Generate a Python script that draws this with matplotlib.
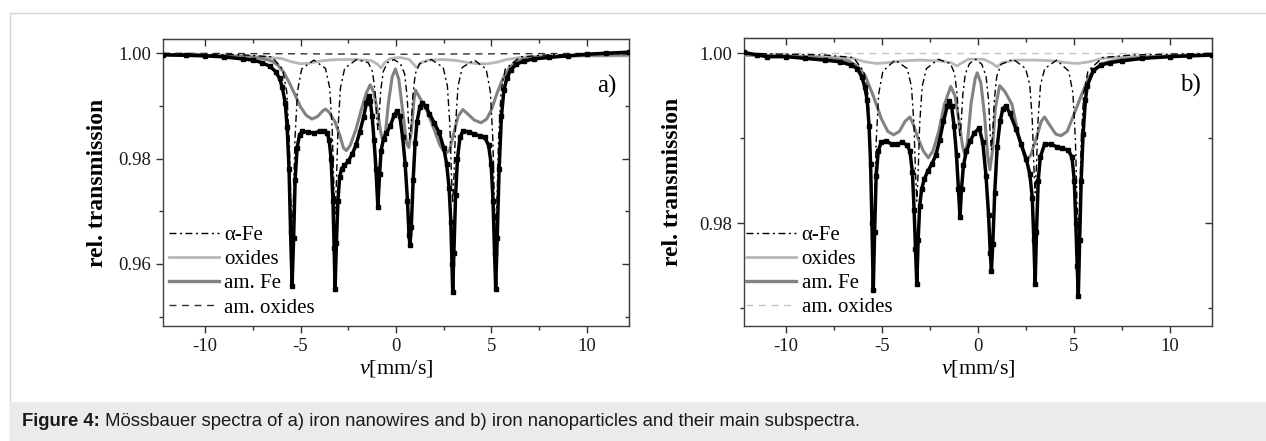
# Mossbauer spectra, two panels, subspectra
import numpy as np
import matplotlib
matplotlib.use('Agg')
from matplotlib import pyplot as plt
from matplotlib import ticker
import matplotlib.lines as mlines
import matplotlib.patches as mpatches

from matplotlib import rcParams
rcParams['font.family'] = 'Liberation Serif'
rcParams['mathtext.fontset'] = 'custom'
rcParams['mathtext.rm'] = 'Liberation Serif'
rcParams['mathtext.it'] = 'Liberation Serif:italic'
rcParams['axes.unicode_minus'] = False

# ---------------- panel a) iron nanowires ----------------
a_data_v = [-12.2, -11, -10, -9, -8, -7.5, -7, -6.6, -6.3, -6.1, -5.95, -5.8, -5.7, -5.6, -5.52,
            -5.44, -5.36, -5.28, -5.18, -5.05, -4.9, -4.6, -4.3, -4.0, -3.75, -3.6, -3.5, -3.4,
            -3.3, -3.24, -3.19, -3.12, -3.04, -2.95, -2.85, -2.7, -2.5, -2.3, -2.1, -1.9, -1.7,
            -1.55, -1.43, -1.35, -1.25, -1.15, -1.05, -0.95, -0.86, -0.78, -0.65, -0.5, -0.3,
            -0.1, 0.06, 0.2, 0.35, 0.48, 0.6, 0.68, 0.73, 0.8, 0.9, 1.0, 1.1, 1.25, 1.37, 1.55,
            1.75, 2.0, 2.25, 2.5, 2.65, 2.78, 2.87, 2.93, 2.97, 3.03, 3.12, 3.22, 3.35, 3.5, 3.8,
            4.1, 4.4, 4.65, 4.85, 4.98, 5.08, 5.16, 5.22, 5.3, 5.4, 5.52, 5.65, 5.8, 6.0, 6.3,
            6.7, 7.2, 8, 9, 10, 11, 12.2]
a_data_t = [0.9997, 0.9996, 0.9995, 0.9993, 0.9989, 0.9987, 0.9982, 0.9975, 0.9965, 0.9952,
            0.9935, 0.9905, 0.9860, 0.9780, 0.9660, 0.9558, 0.9650, 0.9760, 0.9820, 0.9845,
            0.9852, 0.9850, 0.9848, 0.9852, 0.9853, 0.9848, 0.9835, 0.9800, 0.9720, 0.9630,
            0.9553, 0.9640, 0.9720, 0.9765, 0.9780, 0.9787, 0.9795, 0.9808, 0.9825, 0.9850,
            0.9878, 0.9905, 0.9918, 0.9910, 0.9880, 0.9835, 0.9780, 0.9708, 0.9770, 0.9815,
            0.9838, 0.9848, 0.9862, 0.9882, 0.9891, 0.9880, 0.9840, 0.9790, 0.9720, 0.9655,
            0.9636, 0.9670, 0.9760, 0.9830, 0.9870, 0.9898, 0.9906, 0.9900, 0.9885, 0.9868,
            0.9850, 0.9820, 0.9790, 0.9745, 0.9680, 0.9600, 0.9547, 0.9620, 0.9730, 0.9800,
            0.9840, 0.9852, 0.9851, 0.9846, 0.9843, 0.9840, 0.9825, 0.9790, 0.9720, 0.9620,
            0.9553, 0.9650, 0.9780, 0.9880, 0.9930, 0.9952, 0.9968, 0.9979, 0.9985, 0.9989,
            0.9992, 0.9995, 0.9998, 1.0000, 1.0002]

a_fe_v = [-12.2, -8, -6.5, -5.94, -5.72, -5.59, -5.51, -5.44, -5.37, -5.29, -5.16, -4.94, -4.3,
          -3.69, -3.47, -3.34, -3.26, -3.19, -3.12, -3.04, -2.91, -2.69, -2.07,
          -1.45, -1.23, -1.10, -1.02, -0.95, -0.88, -0.80, -0.67, -0.45, -0.11,
          0.23, 0.45, 0.58, 0.66, 0.73, 0.80, 0.88, 1.01, 1.23, 1.85,
          2.47, 2.69, 2.82, 2.90, 2.97, 3.04, 3.12, 3.25, 3.47, 4.1,
          4.72, 4.94, 5.07, 5.15, 5.22, 5.29, 5.37, 5.50, 5.72, 6.5, 8, 12.2]
a_fe_t = [0.9999, 0.9997, 0.9993, 0.9970, 0.9927, 0.9837, 0.9723, 0.9660, 0.9723, 0.9837, 0.9927,
          0.9970, 0.9987,
          0.9971, 0.9934, 0.9855, 0.9755, 0.9695, 0.9755, 0.9855, 0.9934, 0.9971, 0.9988,
          0.9982, 0.9965, 0.9929, 0.9882, 0.9855, 0.9882, 0.9929, 0.9965, 0.9982, 0.9988,
          0.9980, 0.9961, 0.9919, 0.9866, 0.9835, 0.9866, 0.9919, 0.9961, 0.9980, 0.9988,
          0.9973, 0.9938, 0.9865, 0.9771, 0.9715, 0.9771, 0.9865, 0.9938, 0.9973, 0.9987,
          0.9970, 0.9927, 0.9837, 0.9723, 0.9660, 0.9723, 0.9837, 0.9927, 0.9970, 0.9993,
          0.9997, 0.9999]

a_amfe_v = [-12.2, -10, -8, -7, -6.5, -6.2, -5.9, -5.6, -5.3, -5.0, -4.7, -4.4, -4.1, -3.85, -3.69,
            -3.5, -3.2, -2.95, -2.75, -2.6, -2.4, -2.1, -1.8, -1.55, -1.35, -1.15, -0.95, -0.8,
            -0.68, -0.55, -0.4, -0.2, -0.03, 0.15, 0.35, 0.55, 0.67, 0.8, 0.95, 1.02, 1.3, 1.63,
            2.0, 2.3, 2.6, 2.8, 3.0, 3.25, 3.5, 3.75, 4.1, 4.45, 4.75, 5.0, 5.3, 5.6, 5.9, 6.2,
            6.6, 7.2, 8, 10, 12.2]
a_amfe_t = [0.9997, 0.9996, 0.9994, 0.9990, 0.9985, 0.9978, 0.9965, 0.9945, 0.9922, 0.9898,
            0.9882, 0.9875, 0.9880, 0.9890, 0.9894, 0.9888, 0.9870, 0.9845, 0.9820, 0.9815,
            0.9825, 0.9855, 0.9895, 0.9925, 0.9940, 0.9925, 0.9885, 0.9850, 0.9833, 0.9850,
            0.9905, 0.9955, 0.9970, 0.9950, 0.9890, 0.9830, 0.9821, 0.9850, 0.9915, 0.9930,
            0.9912, 0.9890, 0.9855, 0.9825, 0.9810, 0.9815, 0.9845, 0.9880, 0.9893, 0.9885,
            0.9873, 0.9868, 0.9875, 0.9893, 0.9925, 0.9952, 0.9970, 0.9982, 0.9988, 0.9992,
            0.9994, 0.9996, 0.9997]

a_ox_v = [-12.2, -9, -7, -6, -5.5, -5.0, -4.5, -4.0, -3.5, -3.0, -2.0, -1.3, -1.0, -0.78, -0.6,
          -0.3, 0.2, 0.7, 0.95, 1.1, 1.3, 1.7, 2.5, 3.2, 3.8, 4.3, 4.8, 5.3, 5.8, 6.5, 8, 12.2]
a_ox_t = [0.9996, 0.9995, 0.9993, 0.9990, 0.9984, 0.9980, 0.9981, 0.9985, 0.9987, 0.9988,
          0.9988, 0.9986, 0.9980, 0.9972, 0.9982, 0.9990, 0.9992, 0.9988, 0.9978, 0.9972,
          0.9982, 0.9987, 0.9988, 0.9986, 0.9982, 0.9980, 0.9980, 0.9983, 0.9988, 0.9992,
          0.9994, 0.9995]

a_amox_v = [-12.2, -6, 0, 6, 12.2]
a_amox_t = [1.0000, 0.9999, 0.9998, 0.9999, 1.0000]

# ---------------- panel b) iron nanoparticles ----------------
b_data_v = [-12.2, -11.5, -11, -10, -9, -8, -7.2, -6.6, -6.3, -6.05, -5.9, -5.78, -5.68, -5.6,
            -5.53, -5.46, -5.39, -5.31, -5.2, -5.05, -4.8, -4.5, -4.2, -3.95, -3.7, -3.55, -3.42,
            -3.33, -3.26, -3.19, -3.12, -3.04, -2.94, -2.8, -2.6, -2.4, -2.2, -2.0, -1.8, -1.6,
            -1.49, -1.38, -1.25, -1.12, -1.02, -0.94, -0.86, -0.76, -0.6, -0.4, -0.2, 0.06, 0.25,
            0.42, 0.55, 0.64, 0.70, 0.77, 0.87, 1.0, 1.15, 1.3, 1.45, 1.65, 1.98, 2.25, 2.51,
            2.7, 2.83, 2.91, 2.98, 3.05, 3.14, 3.25, 3.47, 3.8, 4.1, 4.4, 4.7, 4.9, 5.02, 5.1,
            5.17, 5.23, 5.3, 5.38, 5.48, 5.6, 5.7, 6.02, 6.4, 6.87, 7.5, 8.57, 10, 11, 12.2]
b_data_t = [1.0001, 0.9998, 0.9996, 0.9996, 0.9994, 0.9992, 0.9990, 0.9986, 0.9982, 0.9972,
            0.9960, 0.9945, 0.9915, 0.9870, 0.9800, 0.9721, 0.9790, 0.9855, 0.9885, 0.9895,
            0.9897, 0.9893, 0.9893, 0.9895, 0.9892, 0.9885, 0.9860, 0.9815, 0.9770, 0.9728,
            0.9780, 0.9820, 0.9840, 0.9852, 0.9862, 0.9870, 0.9880, 0.9898, 0.9920, 0.9938,
            0.9944, 0.9938, 0.9915, 0.9880, 0.9840, 0.9807, 0.9840, 0.9868, 0.9885, 0.9897,
            0.9906, 0.9912, 0.9895, 0.9855, 0.9810, 0.9765, 0.9744, 0.9775, 0.9835, 0.9890,
            0.9920, 0.9935, 0.9938, 0.9930, 0.9911, 0.9893, 0.9876, 0.9858, 0.9830, 0.9780,
            0.9729, 0.9790, 0.9850, 0.9878, 0.9893, 0.9893, 0.9890, 0.9888, 0.9886, 0.9878,
            0.9850, 0.9800, 0.9750, 0.9714, 0.9780, 0.9850, 0.9905, 0.9945, 0.9962, 0.9980,
            0.9986, 0.9989, 0.9991, 0.9994, 0.9996, 0.9997, 0.9998]

b_fe_v = [-12.2, -8, -6.5, -5.96, -5.74, -5.61, -5.53, -5.46, -5.39, -5.31, -5.18, -4.96, -4.32,
          -3.69, -3.47, -3.34, -3.26, -3.19, -3.12, -3.04, -2.91, -2.69, -2.07,
          -1.44, -1.22, -1.09, -1.01, -0.94, -0.87, -0.79, -0.66, -0.44, -0.12,
          0.20, 0.42, 0.55, 0.63, 0.70, 0.77, 0.85, 0.98, 1.20, 1.84,
          2.48, 2.70, 2.83, 2.91, 2.98, 3.05, 3.13, 3.26, 3.48, 4.1,
          4.73, 4.95, 5.08, 5.16, 5.23, 5.30, 5.38, 5.51, 5.73, 6.5, 8, 12.2]
b_fe_t = [1.0000, 0.9998, 0.9995, 0.9979, 0.9952, 0.9895, 0.9821, 0.9777, 0.9821, 0.9895, 0.9952,
          0.9979, 0.9992,
          0.9982, 0.9961, 0.9917, 0.9860, 0.9826, 0.9860, 0.9917, 0.9961, 0.9982, 0.9993,
          0.9988, 0.9976, 0.9952, 0.9920, 0.9901, 0.9920, 0.9952, 0.9976, 0.9988, 0.9993,
          0.9987, 0.9973, 0.9945, 0.9908, 0.9886, 0.9908, 0.9945, 0.9973, 0.9987, 0.9993,
          0.9982, 0.9963, 0.9921, 0.9868, 0.9836, 0.9868, 0.9921, 0.9963, 0.9982, 0.9992,
          0.9979, 0.9953, 0.9897, 0.9825, 0.9782, 0.9825, 0.9897, 0.9953, 0.9979, 0.9995,
          0.9998, 1.0000]

b_amfe_v = [-12.2, -9, -7.5, -6.74, -6.3, -5.89, -5.46, -5.04, -4.7, -4.4, -4.1, -3.8, -3.55,
            -3.35, -3.13, -2.85, -2.59, -2.35, -2.06, -1.75, -1.42, -1.2, -0.99, -0.8, -0.68,
            -0.55, -0.36, -0.15, -0.04, 0.15, 0.35, 0.5, 0.62, 0.75, 0.9, 1.13, 1.4, 1.77, 2.1,
            2.4, 2.51, 2.75, 3.04, 3.3, 3.47, 3.75, 4.05, 4.32, 4.65, 4.95, 5.38, 5.8, 6.44, 7.5,
            9, 12.2]
b_amfe_t = [0.9998, 0.9996, 0.9993, 0.9991, 0.9985, 0.9974, 0.9950, 0.9923, 0.9908, 0.9904,
            0.9908, 0.9920, 0.9925, 0.9915, 0.9900, 0.9885, 0.9877, 0.9885, 0.9907, 0.9940,
            0.9961, 0.9950, 0.9920, 0.9890, 0.9880, 0.9895, 0.9941, 0.9970, 0.9977, 0.9965,
            0.9925, 0.9880, 0.9863, 0.9885, 0.9935, 0.9962, 0.9955, 0.9940, 0.9905, 0.9880,
            0.9874, 0.9880, 0.9900, 0.9920, 0.9925, 0.9915, 0.9905, 0.9903, 0.9908, 0.9925,
            0.9950, 0.9973, 0.9988, 0.9993, 0.9996, 0.9998]

b_ox_v = [-12.2, -8, -6.5, -5.9, -5.3, -4.7, -4.0, -3.0, -2.0, -1.4, -1.1, -0.9, -0.5, 0.3, 0.75,
          1.0, 1.25, 2, 3, 4, 4.6, 5.2, 5.8, 6.5, 8, 12.2]
b_ox_t = [0.9998, 0.9996, 0.9994, 0.9990, 0.9988, 0.9989, 0.9991, 0.9992, 0.9991, 0.9989,
          0.9985, 0.9988, 0.9993, 0.9993, 0.9988, 0.9984, 0.9989, 0.9992, 0.9992, 0.9991,
          0.9989, 0.9988, 0.9990, 0.9994, 0.9996, 0.9997]

b_amox_v = [-12.2, 0, 12.2]
b_amox_t = [1.0000, 1.0000, 1.0000]

legend_labels = ['\u03b1-Fe', 'oxides', 'am. Fe', 'am. oxides']
caption_bold = 'Figure 4:'
caption_rest = ' Mössbauer spectra of a) iron nanowires and b) iron nanoparticles and their main subspectra.'

# styles
fe_style = dict(color='black', lw=1.0, ls=(0, (5, 2.5, 1.5, 2.5)))
ox_color = '#b8b8b8'
amfe_color = '#828282'

W, H = 1266, 441
fig = plt.figure(figsize=(W / 100., H / 100.), dpi=100)

# page decorations: thin frame and grey caption box
fig.patches.append(mpatches.Rectangle((10. / W, 0), 1.0, 1 - 13. / H, transform=fig.transFigure,
                                      fill=False, ec='#d6d6d6', lw=1.0))
fig.patches.append(mpatches.Rectangle((10. / W, 0), 1.0, 39. / H, transform=fig.transFigure,
                                      fc='#ebebeb', ec='none'))

def panel(rect, ylim, yticks, yminor, curves, tag, amox_color, leg_anchor, ylab_x):
    ax = fig.add_axes(rect)
    dv, dt, fv, ft, av, at, ov, ot, mv, mt = curves
    ax.plot(mv, mt, color=amox_color, lw=1.0, ls=(0, (5, 4)), zorder=2)
    ax.plot(ov, ot, color=ox_color, lw=2.0, zorder=3)
    ax.plot(av, at, color=amfe_color, lw=2.2, zorder=3)
    ax.plot(fv, ft, zorder=4, **fe_style)
    ax.plot(dv, dt, color='black', lw=2.5, marker='s', ms=2.8, zorder=5)

    ax.set_xlim(-12.2, 12.2)
    ax.set_ylim(*ylim)
    ax.xaxis.set_major_locator(ticker.MultipleLocator(5))
    ax.xaxis.set_minor_locator(ticker.MultipleLocator(2.5))
    ax.set_yticks(yticks)
    ax.yaxis.set_minor_locator(ticker.FixedLocator(yminor))
    ax.yaxis.set_major_formatter(ticker.FormatStrFormatter('%.2f'))
    ax.tick_params(which='both', direction='out', labelsize=13.5, colors='#333333',
                   labelcolor='#1a1a1a', width=1.0)
    ax.tick_params(which='major', length=5)
    ax.tick_params(which='minor', length=3)
    for s in ax.spines.values():
        s.set_color('#404040')
        s.set_linewidth(1.0)

    # mirrored ticks pointing inwards on top and right
    top = ax.secondary_xaxis('top')
    top.xaxis.set_major_locator(ticker.MultipleLocator(5))
    top.xaxis.set_minor_locator(ticker.MultipleLocator(2.5))
    top.tick_params(which='both', direction='in', labeltop=False, colors='#333333', width=1.0)
    top.tick_params(which='major', length=5)
    top.tick_params(which='minor', length=3)
    right = ax.secondary_yaxis('right')
    right.set_yticks(yticks)
    right.yaxis.set_minor_locator(ticker.FixedLocator(yminor))
    right.tick_params(which='both', direction='in', labelright=False, colors='#333333', width=1.0)
    right.tick_params(which='major', length=5)
    right.tick_params(which='minor', length=3)

    ax.set_xlabel('$v$[mm/s]', fontsize=16)
    ax.xaxis.set_label_coords(0.5, -0.112)
    ax.set_ylabel('rel. transmission', fontsize=17, fontweight='bold')
    ax.yaxis.set_label_coords(ylab_x, 0.5)

    ax.text(0.953, 0.835, tag, transform=ax.transAxes, fontsize=18, ha='center', va='center')

    handles = [mlines.Line2D([], [], **fe_style),
               mlines.Line2D([], [], color=ox_color, lw=2.0),
               mlines.Line2D([], [], color=amfe_color, lw=2.4),
               mlines.Line2D([], [], color=amox_color, lw=1.0, ls=(0, (5, 4)))]
    ax.legend(handles, legend_labels, loc='center left', bbox_to_anchor=leg_anchor,
              frameon=False, fontsize=15, borderpad=0, borderaxespad=0, handlelength=2.4,
              handletextpad=0.25, labelspacing=0.22)
    return ax

ax1 = panel([163. / W, 1 - 326. / H, 466. / W, 287. / H], (0.9482, 1.0027),
            [0.96, 0.98, 1.00], [0.95, 0.97, 0.99],
            (a_data_v, a_data_t, a_fe_v, a_fe_t, a_amfe_v, a_amfe_t, a_ox_v, a_ox_t,
             a_amox_v, a_amox_t), 'a)', '#303030', (0.012, 0.19), -0.118)
ax2 = panel([744. / W, 1 - 326. / H, 468. / W, 288. / H], (0.9679, 1.0018),
            [0.98, 1.00], [0.97, 0.99],
            (b_data_v, b_data_t, b_fe_v, b_fe_t, b_amfe_v, b_amfe_t, b_ox_v, b_ox_t,
             b_amox_v, b_amox_t), 'b)', '#c4c4c4', (0.005, 0.19), -0.130)

# caption: bold label followed by normal text
t1 = fig.text(22. / W, 1 - 421. / H, caption_bold, family='Liberation Sans', fontweight='bold',
              fontsize=13.3, va='center', ha='left', color='#1a1a1a')
fig.canvas.draw()
bb = t1.get_window_extent(renderer=fig.canvas.get_renderer())
fig.text(bb.x1 / W, 1 - 421. / H, caption_rest, family='Liberation Sans', fontsize=13.3,
         va='center', ha='left', color='#1a1a1a')

plt.savefig('out.png', dpi=100)
plt.close()
